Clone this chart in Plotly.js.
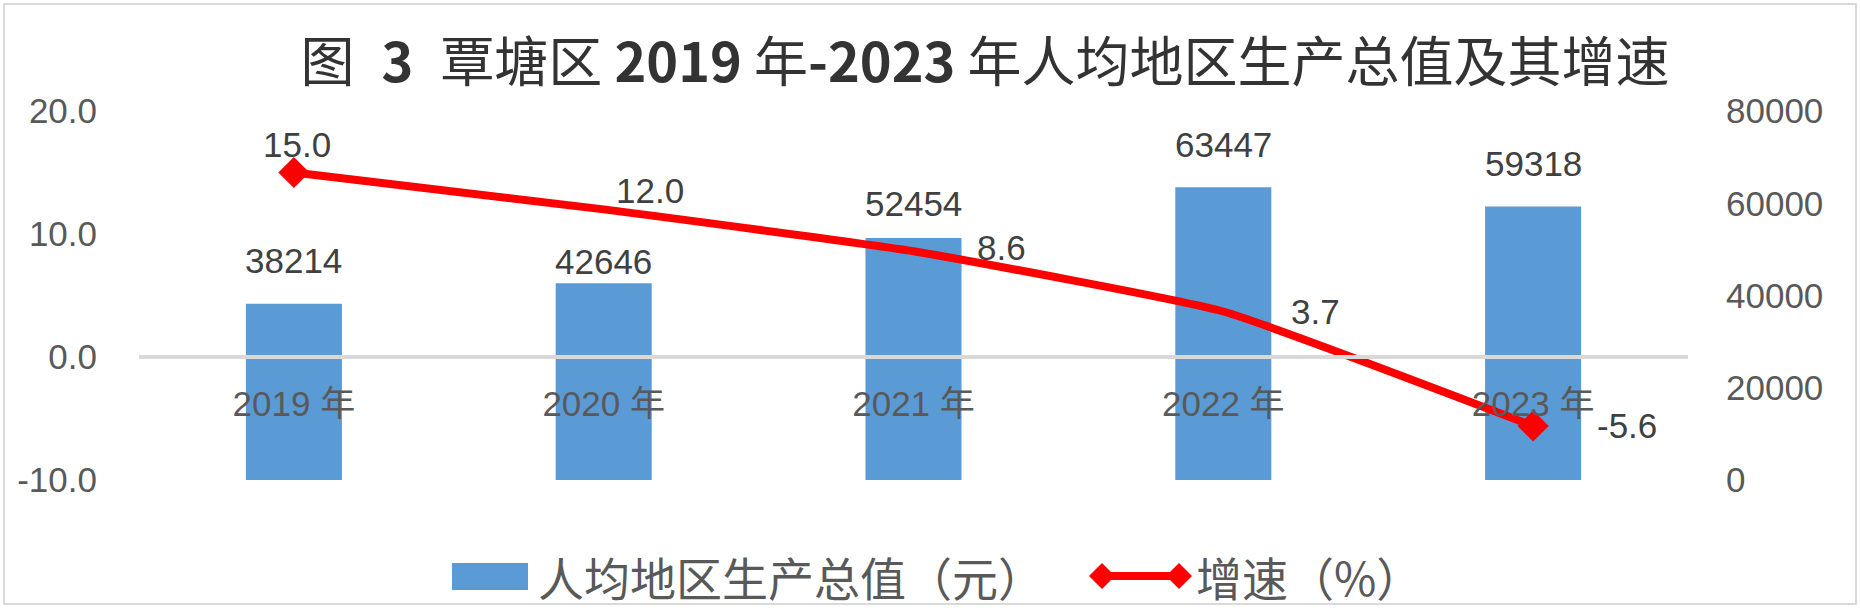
<!DOCTYPE html>
<html>
<head>
<meta charset="utf-8">
<script src="https://cdn.plot.ly/plotly-3.0.1.min.js"></script>
<style>
  html, body { margin: 0; padding: 0; background: #fff; }
  #wrap { position: relative; width: 1860px; height: 608px; }
  #chart { position: absolute; left: 0; top: 0; width: 1860px; height: 608px; }
  #frame { position: absolute; left: 3px; top: 3px; width: 1854px; height: 602px;
           border: 2px solid #d9d9d9; box-sizing: border-box; pointer-events: none; }
</style>
</head>
<body>
<div id="wrap"><div id="chart"></div><div id="frame"></div></div>
<script>
// ---- data ----
const years = ['2019 年', '2020 年', '2021 年', '2022 年', '2023 年'];
const gdpPerCapita = [38214, 42646, 52454, 63447, 59318];
const growthRate = [15.0, 12.0, 8.6, 3.7, -5.6];
const leftTickVals = [-10, 0, 10, 20];
const leftTickText = ['-10.0', '0.0', '10.0', '20.0'];
const rightTickVals = [0, 20000, 40000, 60000, 80000];
const seriesNames = ['人均地区生产总值（元）', '增速（%）'];
const titleText = '图\u2002<b>3</b>\u2002覃塘区 <b>2019</b> 年<b>-2023</b> 年人均地区生产总值及其增速';

// ---- styling / layout helpers ----
const W = 1860, H = 608;
const M = { l: 139, r: 172, t: 111, b: 128 };
const PW = W - M.l - M.r, PH = H - M.t - M.b;
const px = v => (v - M.l) / PW;
const py = v => (H - M.b - v) / PH;
const numFont = 'Liberation Sans, Arial, Noto Sans CJK SC, sans-serif';
const cjkFont = 'Noto Sans CJK SC, sans-serif';
const barColor = '#5b9bd5';
const lineColor = '#ff0000';

const barLabelShift = [43, 22, 35, 43, 43];
const lineLabelShiftX = [3, 46, 88, 92, 94];
const lineLabelShiftY = [28, 19, 4, 0, 0];
const lineMarkerSize = [24, 0, 0, 0, 24];

const traces = [
  {
    type: 'bar', name: seriesNames[0], x: years, y: gdpPerCapita,
    xaxis: 'x', yaxis: 'y',
    marker: { color: barColor, line: { width: 0 } }, hoverinfo: 'skip'
  },
  {
    type: 'scatter', mode: 'lines+markers', name: seriesNames[1],
    x: years, y: growthRate, xaxis: 'x', yaxis: 'y2',
    line: { color: lineColor, width: 8, shape: 'spline', smoothing: 0.4 },
    marker: { symbol: 'diamond', size: lineMarkerSize, color: lineColor, opacity: 1,
              line: { width: 0, color: lineColor } },
    hoverinfo: 'skip'
  }
];

const annotations = [];
years.forEach((yr, i) => {
  annotations.push({
    xref: 'x', yref: 'y', x: yr, y: gdpPerCapita[i],
    text: String(gdpPerCapita[i]), showarrow: false,
    xanchor: 'center', yanchor: 'middle', yshift: barLabelShift[i],
    font: { family: numFont, size: 35, color: '#404040' }
  });
  annotations.push({
    xref: 'x', yref: 'y2', x: yr, y: growthRate[i],
    text: growthRate[i].toFixed(1), showarrow: false,
    xanchor: 'center', yanchor: 'middle',
    xshift: lineLabelShiftX[i], yshift: lineLabelShiftY[i],
    font: { family: numFont, size: 35, color: '#404040' }
  });
});

// custom legend (Excel-style keys)
const legY = 576;
annotations.push({
  xref: 'paper', yref: 'paper', x: px(536), y: py(legY), xanchor: 'left', yanchor: 'middle',
  text: seriesNames[0], showarrow: false, font: { family: cjkFont, size: 46, color: '#595959' }
});
annotations.push({
  xref: 'paper', yref: 'paper', x: px(1194), y: py(legY), xanchor: 'left', yanchor: 'middle',
  text: seriesNames[1], showarrow: false, font: { family: cjkFont, size: 46, color: '#595959' }
});

const diamond = (cx, cy, hw, hh) =>
  `M ${px(cx - hw)} ${py(cy)} L ${px(cx)} ${py(cy - hh)} L ${px(cx + hw)} ${py(cy)} L ${px(cx)} ${py(cy + hh)} Z`;

const shapes = [
  { type: 'rect', xref: 'paper', yref: 'paper', x0: px(452), x1: px(528), y0: py(563), y1: py(590),
    fillcolor: barColor, line: { width: 0 } },
  { type: 'line', xref: 'paper', yref: 'paper', x0: px(1100), x1: px(1181), y0: py(legY), y1: py(legY),
    line: { color: lineColor, width: 8 } },
  { type: 'path', xref: 'paper', yref: 'paper', path: diamond(1102, legY, 13, 13),
    fillcolor: lineColor, line: { width: 0 } },
  { type: 'path', xref: 'paper', yref: 'paper', path: diamond(1179, legY, 13, 13),
    fillcolor: lineColor, line: { width: 0 } }
];

const layout = {
  width: W, height: H,
  margin: M,
  paper_bgcolor: '#ffffff', plot_bgcolor: '#ffffff',
  showlegend: false,
  bargap: 0.69,
  title: {
    text: titleText, xref: 'container', yref: 'container',
    x: 985 / W, xanchor: 'center', y: 1 - 63 / H, yanchor: 'middle',
    font: { family: cjkFont, size: 54, color: '#333333' }
  },
  xaxis: {
    type: 'category', range: [-0.5, 4.5], anchor: 'free', position: 1 / 3,
    showgrid: false, zeroline: false,
    showline: true, linecolor: '#d9d9d9', linewidth: 4,
    ticks: 'outside', ticklen: 15, tickcolor: 'rgba(0,0,0,0)',
    tickfont: { family: numFont, size: 35, color: '#595959' },
    layer: 'above traces', fixedrange: true
  },
  yaxis: {
    range: [0, 80000], side: 'right', anchor: 'x',
    tickvals: rightTickVals, ticktext: rightTickVals.map(String),
    showgrid: false, zeroline: false, showline: false,
    ticks: 'outside', ticklen: 30, tickcolor: 'rgba(0,0,0,0)',
    tickfont: { family: numFont, size: 35, color: '#595959' }, fixedrange: true
  },
  yaxis2: {
    range: [-10, 20], side: 'left', overlaying: 'y', anchor: 'x',
    tickvals: leftTickVals, ticktext: leftTickText,
    showgrid: false, zeroline: false, showline: false,
    ticks: 'outside', ticklen: 34, tickcolor: 'rgba(0,0,0,0)',
    tickfont: { family: numFont, size: 35, color: '#595959' }, fixedrange: true
  },
  annotations: annotations,
  shapes: shapes
};

Plotly.newPlot('chart', traces, layout, { staticPlot: true, displayModeBar: false });
</script>
</body>
</html>
